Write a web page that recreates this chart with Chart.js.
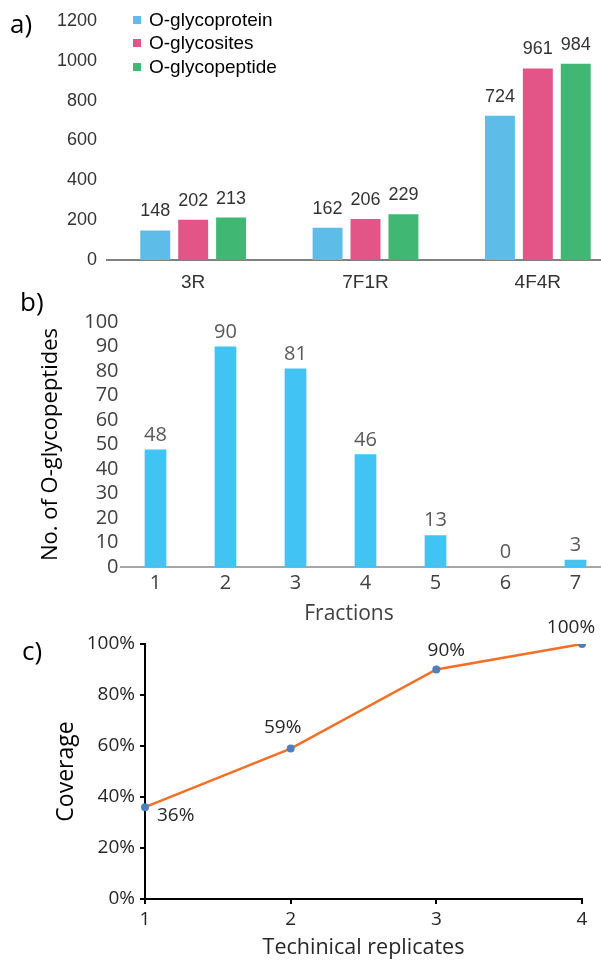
<!DOCTYPE html>
<html>
<head>
<meta charset="utf-8">
<script src="https://cdn.jsdelivr.net/npm/chart.js@4.4.0/dist/chart.umd.min.js"></script>
<style>
  html, body { margin: 0; padding: 0; background: #fff; }
  body { width: 601px; height: 962px; position: relative; overflow: hidden; }
  canvas { position: absolute; left: 0; }
  .tag { position: absolute; font-family: "Open Sans", sans-serif; font-size: 26px; line-height: 1; color: #000; }
  #legend { position: absolute; left: 133px; top: 8px; font-family: "Liberation Sans", Arial, sans-serif; font-size: 19px; color: #000; }
  #legend .item { height: 23.5px; display: flex; align-items: center; }
  #legend .sw { width: 8px; height: 8px; margin-right: 8px; }
  #fracTitle { position: absolute; left: 349px; top: 598px; transform: translateX(-50%); font-family: "Open Sans", sans-serif; font-size: 21px; line-height: 28px; color: #404040; white-space: nowrap; }
</style>
</head>
<body>
<canvas id="chartA" width="625" height="300" style="top:0"></canvas>
<canvas id="chartB" width="625" height="335" style="top:290px"></canvas>
<canvas id="chartC" width="601" height="342" style="top:620px"></canvas>
<div class="tag" style="left:10px; top:10px">a)</div>
<div class="tag" style="left:20px; top:288px">b)</div>
<div class="tag" style="left:22px; top:637px">c)</div>
<div id="legend"></div>
<div id="fracTitle">Fractions</div>

<script>
// a) methods
const methods = ["3R", "7F1R", "4F4R"];
const seriesNames = ["O-glycoprotein", "O-glycosites", "O-glycopeptide"];
const glycoproteins = [148, 162, 724];
const glycosites = [202, 206, 961];
const glycopeptides = [213, 229, 984];
const colorsA = ["#5dbde8", "#e35586", "#40b874"];

// b) fractions
const fractions = ["1", "2", "3", "4", "5", "6", "7"];
const peptidesPerFraction = [48, 90, 81, 46, 13, 0, 3];

// c) replicates
const replicates = ["1", "2", "3", "4"];
const coverage = [36, 59, 90, 100];

// labels drawn next to each element
function valueLabels(cfg) {
  return {
    id: "valueLabels",
    afterDatasetsDraw(chart) {
      const ctx = chart.ctx;
      ctx.save();
      ctx.font = cfg.font;
      ctx.fillStyle = cfg.color;
      ctx.textBaseline = "middle";
      chart.data.datasets.forEach((ds, i) => {
        chart.getDatasetMeta(i).data.forEach((el, j) => {
          const off = cfg.offsets ? cfg.offsets[j] : [0, -cfg.gap, "center"];
          ctx.textAlign = off[2];
          ctx.fillText(ds.data[j] + (cfg.suffix || ""), el.x + off[0], el.y + off[1]);
        });
      });
      ctx.restore();
    }
  };
}

// legend for a)
const legend = document.getElementById("legend");
seriesNames.forEach((name, i) => {
  const row = document.createElement("div");
  row.className = "item";
  row.innerHTML = `<span class="sw" style="background:${colorsA[i]}"></span>${name}`;
  legend.appendChild(row);
});

const arial = "'Liberation Sans', Arial, sans-serif";
const sans = "'Open Sans', sans-serif";

new Chart(document.getElementById("chartA"), {
  type: "bar",
  data: {
    labels: methods,
    datasets: [glycoproteins, glycosites, glycopeptides].map((d, i) => ({
      label: seriesNames[i],
      data: d,
      backgroundColor: colorsA[i],
      categoryPercentage: 0.66,
      barPercentage: 0.79
    }))
  },
  options: {
    responsive: false,
    animation: false,
    layout: { padding: { top: 19, right: 1, left: 0, bottom: 0 } },
    plugins: { legend: { display: false }, tooltip: { enabled: false } },
    scales: {
      x: {
        grid: { display: false, drawTicks: false },
        border: { display: true, color: "#808080", width: 2 },
        ticks: { color: "#333", font: { family: arial, size: 19 }, padding: 11 },
        afterFit: (s) => { s.height = 40; }
      },
      y: {
        min: 0, max: 1200,
        grid: { display: false, drawTicks: false },
        border: { display: false },
        ticks: { stepSize: 200, color: "#333", font: { family: arial, size: 18 }, padding: 10, callback: (v) => String(v) },
        afterFit: (s) => { s.width = 107; }
      }
    }
  },
  plugins: [valueLabels({ font: "18px " + arial, color: "#333", gap: 19 })]
});

new Chart(document.getElementById("chartB"), {
  type: "bar",
  data: {
    labels: fractions,
    datasets: [{
      data: peptidesPerFraction,
      backgroundColor: "#41c3f3",
      categoryPercentage: 1,
      barPercentage: 0.31
    }]
  },
  options: {
    responsive: false,
    animation: false,
    layout: { padding: { top: 32, right: 14.5, left: 34, bottom: 0 } },
    plugins: { legend: { display: false }, tooltip: { enabled: false } },
    scales: {
      x: {
        grid: { display: false, drawTicks: false },
        border: { display: true, color: "#a6a6a6", width: 2 },
        ticks: { color: "#404040", font: { family: sans, size: 20 }, padding: 4 },
        afterFit: (s) => { s.height = 58; }
      },
      y: {
        min: 0, max: 100,
        grid: { display: false, drawTicks: false },
        border: { display: false },
        ticks: { stepSize: 10, autoSkip: false, color: "#404040", font: { family: sans, size: 20 }, padding: 2 },
        title: { display: true, text: "No. of O-glycopeptides", color: "#000", font: { family: sans, size: 22 }, padding: { top: 4, bottom: 0 } },
        afterFit: (s) => { s.width = 86.5; }
      }
    }
  },
  plugins: [valueLabels({ font: "20px " + sans, color: "#595959", gap: 14.5 })]
});

new Chart(document.getElementById("chartC"), {
  type: "line",
  data: {
    labels: replicates,
    datasets: [{
      data: coverage,
      borderColor: "#f26f25",
      borderWidth: 2.5,
      pointBackgroundColor: "#4e80c0",
      pointBorderWidth: 0,
      pointRadius: 4,
      tension: 0
    }]
  },
  options: {
    responsive: false,
    animation: false,
    layout: { padding: { top: 24, right: 19, left: 49, bottom: 0 } },
    plugins: { legend: { display: false }, tooltip: { enabled: false } },
    scales: {
      x: {
        offset: false,
        grid: { display: true, drawOnChartArea: false, drawTicks: true, tickLength: 5, color: "#000", lineWidth: 2 },
        border: { display: true, color: "#000", width: 2 },
        ticks: { color: "#262626", font: { family: sans, size: 19 }, padding: 4 },
        title: { display: true, text: "Techinical replicates", color: "#262626", font: { family: sans, size: 21.5 }, padding: { top: 0, bottom: 1 } },
        afterFit: (s) => { s.height = 63; }
      },
      y: {
        min: 0, max: 100,
        grid: { display: true, drawOnChartArea: false, drawTicks: true, tickLength: 5, color: "#000", lineWidth: 2 },
        border: { display: true, color: "#000", width: 2 },
        ticks: { stepSize: 20, color: "#262626", font: { family: sans, size: 19 }, padding: 5, callback: (v) => v + "%" },
        title: { display: true, text: "Coverage", color: "#000", font: { family: sans, size: 23 }, padding: { top: 4, bottom: 0 } },
        afterFit: (s) => { s.width = 96; }
      }
    }
  },
  plugins: [valueLabels({
    font: "19px " + sans, color: "#262626", suffix: "%",
    offsets: [[12, 8, "left"], [-8, -21, "center"], [10, -19, "center"], [-11, -16, "center"]]
  })]
});
</script>
</body>
</html>
